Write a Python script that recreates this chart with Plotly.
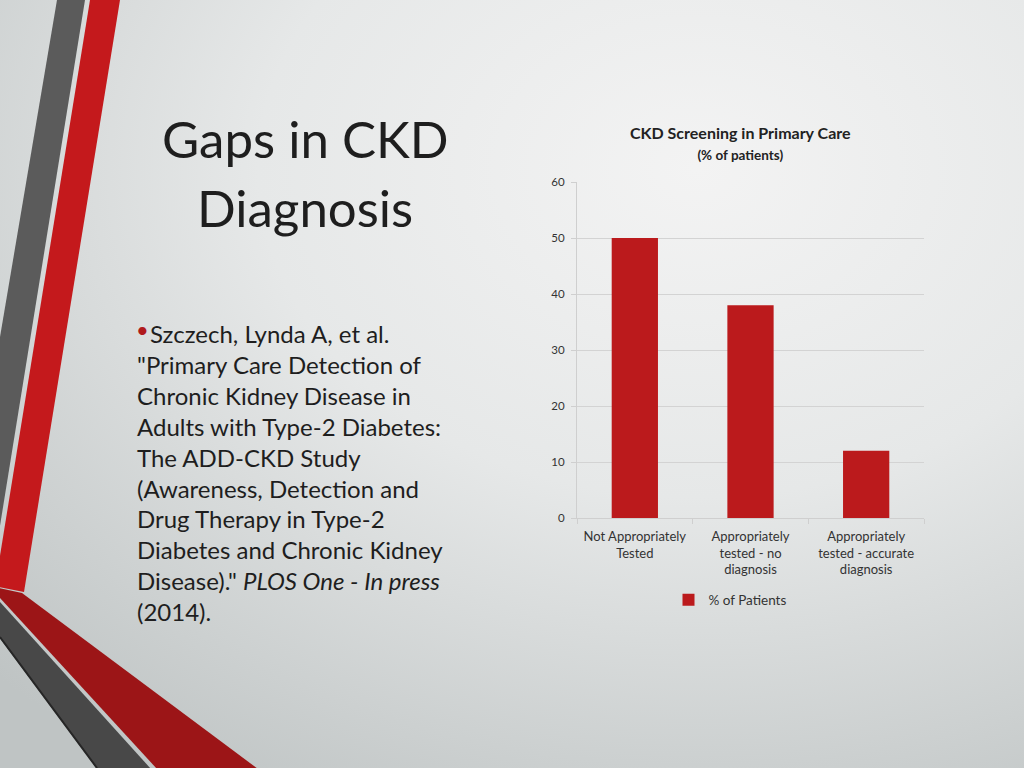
import base64
import plotly.graph_objects as go

# ---- data ----
categories = ["Not Appropriately<br>Tested", "Appropriately<br>tested - no<br>diagnosis",
              "Appropriately<br>tested - accurate<br>diagnosis"]
values = [50, 38, 12]
series_name = "% of Patients"
y_ticks = [0, 10, 20, 30, 40, 50, 60]

slide_title = ["Gaps in CKD", "Diagnosis"]
body_lines = [
    "Szczech, Lynda A, et al.",
    "\"Primary Care Detection of",
    "Chronic Kidney Disease in",
    "Adults with Type-2 Diabetes:",
    "The ADD-CKD Study",
    "(Awareness, Detection and",
    "Drug Therapy in Type-2",
    "Diabetes and Chronic Kidney",
    "Disease).\" <i>PLOS One - In press</i>",
    "(2014).",
]
chart_title = ("<b>CKD Screening in Primary Care</b><br>"
               "<b><span style='font-size:13.5px'>(% of patients)</span></b>")

W, H = 1024, 768
RED = "#bb1a1c"


def px(x, y):
    return x / W, 1 - y / H


def path(pts):
    s = ""
    for i, (x, y) in enumerate(pts):
        X, Y = px(x, y)
        s += ("M" if i == 0 else "L") + f"{X:.5f},{Y:.5f} "
    return s + "Z"


# background gradient as svg image
svg = f"""<svg xmlns='http://www.w3.org/2000/svg' width='{W}' height='{H}'>
<defs><radialGradient id='g' cx='0.68' cy='0.22' r='0.95'>
<stop offset='0' stop-color='#f3f3f3'/><stop offset='0.45' stop-color='#e6e8e8'/>
<stop offset='1' stop-color='#bfc4c4'/></radialGradient></defs>
<rect width='{W}' height='{H}' fill='url(#g)'/></svg>"""
bg_src = "data:image/svg+xml;base64," + base64.b64encode(svg.encode()).decode()

fig = go.Figure()
fig.add_trace(go.Bar(x=categories, y=values, name=series_name, marker_color=RED,
                     marker_line_width=0, showlegend=True))

shapes = [
    dict(type="path", path=path([(57, 0), (85, 0), (-1, 532), (-1, 343)]),
         fillcolor="#5b5b5b", line_width=0, layer="below"),
    dict(type="path", path=path([(90, 0), (120, 0), (24, 592), (-1, 587), (-1, 562)]),
         fillcolor="#c4191c", line_width=0, layer="below"),
    dict(type="path", path=path([(-1, 588), (22, 593), (258, 769), (157, 769), (-1, 597)]),
         fillcolor="#9c1517", line_width=0, layer="below"),
    dict(type="path", path=path([(-1, 601), (151, 769), (97, 769), (-1, 637)]),
         fillcolor="#484848", line_width=0, layer="below"),
    dict(type="line", x0=px(0, 637)[0], y0=px(0, 637)[1], x1=px(97, 768)[0], y1=px(97, 768)[1],
         xref="paper", yref="paper", line=dict(color="#262626", width=2), layer="below"),
]
for s in shapes:
    s.setdefault("xref", "paper")
    s.setdefault("yref", "paper")

annotations = []
for i, t in enumerate(slide_title):
    annotations.append(dict(text=t, x=px(305, 0)[0], y=px(0, [138, 207][i])[1],
                            xref="paper", yref="paper", showarrow=False,
                            xanchor="center", yanchor="middle",
                            font=dict(family="Lato", size=51, color="#1e1e1e")))
for i, t in enumerate(body_lines):
    x0 = 148 if i == 0 else 135
    annotations.append(dict(text=t, x=px(x0, 0)[0], y=px(0, 334 + i * 30.8)[1],
                            xref="paper", yref="paper", showarrow=False,
                            xanchor="left", yanchor="middle",
                            font=dict(family="Lato", size=24, color="#1e1e1e")))
annotations.append(dict(text="•", x=px(142, 0)[0], y=px(0, 329)[1], xref="paper", yref="paper",
                        showarrow=False, xanchor="center", yanchor="middle",
                        font=dict(family="Lato", size=22, color="#b01a1c")))
annotations.append(dict(text=chart_title, x=px(740, 0)[0], y=px(0, 143)[1], xref="paper",
                        yref="paper", showarrow=False, xanchor="center", yanchor="middle",
                        font=dict(family="Lato", size=16, color="#222")))

fig.update_layout(
    width=W, height=H, margin=dict(l=0, r=0, t=0, b=0, pad=0, autoexpand=False),
    paper_bgcolor="#e4e6e6", plot_bgcolor="rgba(0,0,0,0)",
    images=[dict(source=bg_src, xref="paper", yref="paper", x=0, y=1, sizex=1, sizey=1,
                 xanchor="left", yanchor="top", sizing="stretch", layer="below")],
    shapes=shapes, annotations=annotations,
    bargap=0.6,
    xaxis=dict(domain=[577 / W, 924 / W], tickson="boundaries", ticks="outside", ticklen=5,
               tickcolor="#cfcfcf", showline=True, linecolor="#cfcfcf", linewidth=1,
               ticklabelstandoff=6,
               tickfont=dict(family="Lato", size=13, color="#333"), showgrid=False),
    yaxis=dict(domain=[1 - 518 / H, 1 - 182 / H], range=[0, 60], tickvals=y_ticks,
               ticks="outside", ticklen=5, tickcolor="#cfcfcf", showline=True,
               linecolor="#cfcfcf", linewidth=1, gridcolor="#d3d3d3", gridwidth=1,
               zeroline=False, ticklabelstandoff=4,
               tickfont=dict(family="Lato", size=11.5, color="#333")),
    legend=dict(orientation="h", x=px(730, 0)[0], y=px(0, 600)[1], xanchor="center",
                yanchor="middle", bgcolor="rgba(0,0,0,0)",
                font=dict(family="Lato", size=13.5, color="#333"), itemwidth=30),
    font=dict(family="Lato"),
)

fig.write_html(
    "out.html",
    config={"displayModeBar": False},
    post_script=("document.body.style.margin='0';document.body.style.overflow='hidden';"
                 "var d=document.getElementById('{plot_id}');d.style.position='fixed';"
                 "d.style.top='0px';d.style.left='0px';"),
)
